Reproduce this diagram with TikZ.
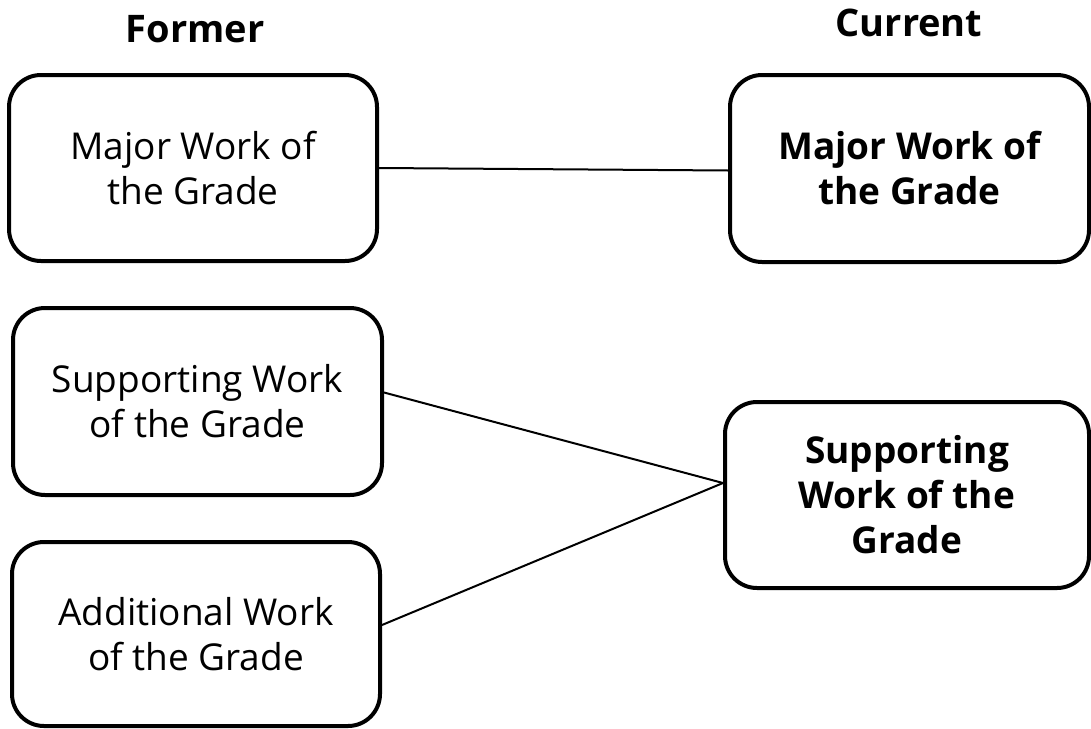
\documentclass[tikz,border=0pt]{standalone}
\usepackage{fontspec}
\setmainfont{Open Sans}
\begin{document}
\begin{tikzpicture}[x=1pt,y=-1pt,
  box/.style={draw=black, line width=4pt, rounded corners=32pt, fill=white,
    align=center, inner sep=0pt, font=\fontsize{37}{45}\selectfont},
  newbox/.style={box, font=\fontsize{37}{45}\selectfont\bfseries},
  head/.style={font=\fontsize{38}{45}\selectfont\bfseries, anchor=base},
  link/.style={draw=black, line width=2pt}]
  \useasboundingbox (0,0) rectangle (1091,728);

  % column headings
  \node[head] (hformer) at (195,42) {Former};
  \node[head] (hcurrent) at (909,36) {Current};

  % former categories
  \node[box, minimum width=368pt, minimum height=186pt] (fmaj) at (193,168)
    {Major Work of\\the Grade};
  \node[box, minimum width=369pt, minimum height=187pt] (fsup) at (197.5,401.5)
    {Supporting Work\\of the Grade};
  \node[box, minimum width=368pt, minimum height=184pt] (fadd) at (196,634)
    {Additional Work\\of the Grade};

  % current categories
  \node[newbox, minimum width=359pt, minimum height=187pt] (cmaj) at (909.5,168.5)
    {Major Work of\\the Grade};
  \node[newbox, minimum width=364pt, minimum height=186pt] (csup) at (907,495)
    {Supporting\\Work of the\\Grade};

  % mapping from former to current (shifts are in page units, up is positive)
  \draw[link] (fmaj.east) -- ([yshift=-2pt]cmaj.west);
  \draw[link] ([yshift=9pt]fsup.east) -- ([yshift=12pt]csup.west);
  \draw[link] ([yshift=9pt]fadd.east) -- ([yshift=12pt]csup.west);
\end{tikzpicture}
\end{document}
